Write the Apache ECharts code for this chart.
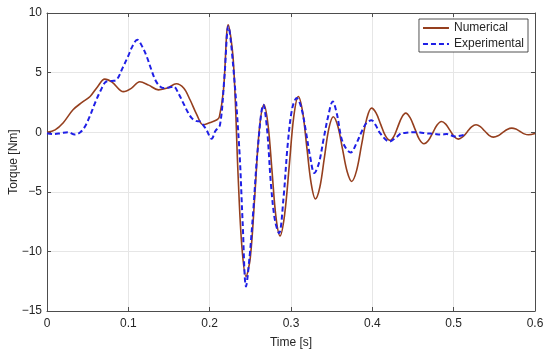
<!DOCTYPE html>
<html>
<head>
<meta charset="utf-8">
<script src="https://cdn.jsdelivr.net/npm/echarts@6/dist/echarts.min.js"></script>
<style>html,body{margin:0;padding:0;background:#fff}#c{width:550px;height:357px}</style>
</head>
<body>
<div id="c"></div>
<script>
const xTicks = [0, 0.1, 0.2, 0.3, 0.4, 0.5, 0.6];
const yTicks = [-15, -10, -5, 0, 5, 10];
const seriesNames = ['Numerical', 'Experimental'];

const numT = [0,0.01,0.02,0.032,0.043,0.053,0.062,0.071,0.08,0.094,0.104,0.114,0.125,0.137,0.148,0.159,0.168,0.176,0.184,0.192,0.2,0.209,0.212,0.217,0.2228,0.229,0.235,0.2395,0.2447,0.25,0.2557,0.261,0.2668,0.2718,0.2766,0.2815,0.2865,0.292,0.2978,0.3034,0.309,0.3143,0.3195,0.3248,0.330,0.3355,0.341,0.3465,0.352,0.3576,0.3633,0.369,0.3746,0.3807,0.3868,0.393,0.399,0.4047,0.4103,0.416,0.4217,0.4265,0.4313,0.4362,0.441,0.4466,0.4522,0.4578,0.4635,0.4689,0.4743,0.4796,0.485,0.4902,0.4953,0.5005,0.5057,0.511,0.5166,0.522,0.5275,0.5328,0.5382,0.5435,0.5488,0.5545,0.5601,0.5658,0.5714,0.5765,0.5817,0.5868,0.592,0.6];
const numV = [0,0.2,0.8,1.88,2.5,3.0,3.8,4.45,4.2,3.4,3.7,4.23,3.95,3.55,3.7,4.06,3.7,2.7,1.5,0.62,0.8,1.04,1.3,3.56,9.0,6.07,-3.7,-9.5,-12.1,-10.5,-5.1,0.2,2.3,0.6,-3.2,-7.1,-8.7,-7.0,-2.85,1.3,3.0,1.7,-1.3,-4.3,-5.6,-4.6,-2.15,0.3,1.3,0.5,-1.4,-3.3,-4.13,-3.2,-1.05,1.1,2.02,1.6,0.66,-0.29,-0.69,-0.35,0.45,1.25,1.6,1.2,0.3,-0.6,-0.97,-0.7,-0.05,0.6,0.9,0.68,0.17,-0.36,-0.58,-0.4,0.02,0.44,0.62,0.47,0.1,-0.26,-0.41,-0.3,-0.03,0.23,0.34,0.26,0.06,-0.14,-0.22,-0.1];

const expT = [0,0.008,0.016,0.026,0.034,0.041,0.0467,0.053,0.059,0.066,0.073,0.08,0.0857,0.093,0.0996,0.105,0.111,0.117,0.1226,0.128,0.133,0.138,0.143,0.15,0.1556,0.162,0.1676,0.173,0.178,0.183,0.188,0.192,0.196,0.2025,0.207,0.2127,0.218,0.223,0.229,0.2365,0.2405,0.2447,0.249,0.2537,0.259,0.266,0.2705,0.2755,0.2803,0.2853,0.2908,0.296,0.3015,0.307,0.3125,0.318,0.3234,0.3287,0.3343,0.34,0.3456,0.3513,0.3565,0.362,0.368,0.3734,0.38,0.387,0.393,0.399,0.404,0.4095,0.421,0.43,0.436,0.442,0.45,0.4587,0.467,0.475,0.485,0.4915,0.5017,0.508,0.514];
const expV = [-0.08,-0.15,-0.1,0,-0.2,0,0.48,1.4,2.44,3.5,4.25,4.3,4.4,5.4,6.35,7.2,7.75,7.2,6.35,5.3,4.4,3.9,3.7,3.75,3.83,3.2,2.44,1.7,1.18,0.95,0.9,0.6,0.2,-0.55,0.1,0.62,4.5,8.87,5.5,-1.47,-7.5,-12.94,-10.5,-6.5,-1.5,2.3,0.3,-4.5,-7.4,-8.47,-5.5,-1.0,2.0,2.86,2.1,0.2,-2.0,-3.43,-2.6,-0.6,1.3,2.58,1.5,-0.5,-1.4,-1.7,-1.0,0.06,0.8,1.0,0.6,-0.08,-0.78,-0.4,-0.08,-0.05,0.0,-0.02,-0.1,-0.13,-0.2,-0.15,-0.36,-0.3,-0.2];

const font = 'Liberation Sans, Arial, sans-serif';
const axisCol = '#4d4d4d';
const txtCol = '#262626';

const chart = echarts.init(document.getElementById('c'), null, {renderer: 'canvas'});
const pair = (t, v) => t.map((x, i) => [x, v[i]]);

const baseX = {
  type: 'value', min: 0, max: 0.6, interval: 0.1,
  axisLine: {show: true, onZero: false, lineStyle: {color: axisCol, width: 1}},
  axisTick: {show: true, inside: true, length: 4, lineStyle: {color: axisCol}},
};
const baseY = {
  type: 'value', min: -15, max: 10, interval: 5,
  axisLine: {show: true, onZero: false, lineStyle: {color: axisCol, width: 1}},
  axisTick: {show: true, inside: true, length: 4, lineStyle: {color: axisCol}},
};

chart.setOption({
  animation: false,
  backgroundColor: '#fff',
  grid: {left: 47, right: 15, top: 13, bottom: 46, containLabel: false, outerBoundsMode: 'none'},
  legend: {
    orient: 'vertical', right: 22, top: 19,
    data: seriesNames,
    backgroundColor: '#fff', borderColor: '#262626', borderWidth: 0.8, borderRadius: 0,
    padding: [3, 4, 2, 3], itemWidth: 26, itemHeight: 10, itemGap: 4,
    itemStyle: {opacity: 0},
    textStyle: {fontFamily: font, fontSize: 12, color: txtCol}
  },
  xAxis: [
    Object.assign({}, baseX, {
      position: 'bottom',
      name: 'Time [s]', nameLocation: 'middle', nameGap: 26, nameMoveOverlap: false,
      nameTextStyle: {fontFamily: font, fontSize: 12, color: txtCol},
      axisLabel: {fontFamily: font, fontSize: 12, color: txtCol, margin: 7,
        formatter: v => { const t = xTicks.find(k => Math.abs(k - v) < 1e-9); return t === undefined ? '' : String(t); }},
      splitLine: {show: true, lineStyle: {color: '#e6e6e6', width: 1}}
    }),
    Object.assign({}, baseX, {position: 'top', axisLabel: {show: false}, splitLine: {show: false}})
  ],
  yAxis: [
    Object.assign({}, baseY, {
      position: 'left',
      name: 'Torque [Nm]', nameLocation: 'middle', nameGap: 27, nameRotate: 90, nameMoveOverlap: false,
      nameTextStyle: {fontFamily: font, fontSize: 12, color: txtCol},
      axisLabel: {fontFamily: font, fontSize: 12, color: txtCol, margin: 5,
        formatter: v => { const t = yTicks.find(k => Math.abs(k - v) < 1e-9); return t === undefined ? '' : (t < 0 ? '\u2212' + Math.abs(t) : String(t)); }},
      splitLine: {show: true, lineStyle: {color: '#e6e6e6', width: 1}}
    }),
    Object.assign({}, baseY, {position: 'right', axisLabel: {show: false}, splitLine: {show: false}})
  ],
  series: [
    {
      name: seriesNames[0], type: 'line', xAxisIndex: 0, yAxisIndex: 0,
      data: pair(numT, numV), smooth: 0.35, symbol: 'none', showSymbol: false,
      lineStyle: {color: '#953f1e', width: 1.6}, itemStyle: {color: '#953f1e'}, z: 3
    },
    {
      name: seriesNames[1], type: 'line', xAxisIndex: 0, yAxisIndex: 0,
      data: pair(expT, expV), smooth: 0.35, symbol: 'none', showSymbol: false,
      lineStyle: {color: '#1f1fe6', width: 2, type: [5, 3]}, itemStyle: {color: '#1f1fe6'}, z: 4
    }
  ]
});
</script>
</body>
</html>
